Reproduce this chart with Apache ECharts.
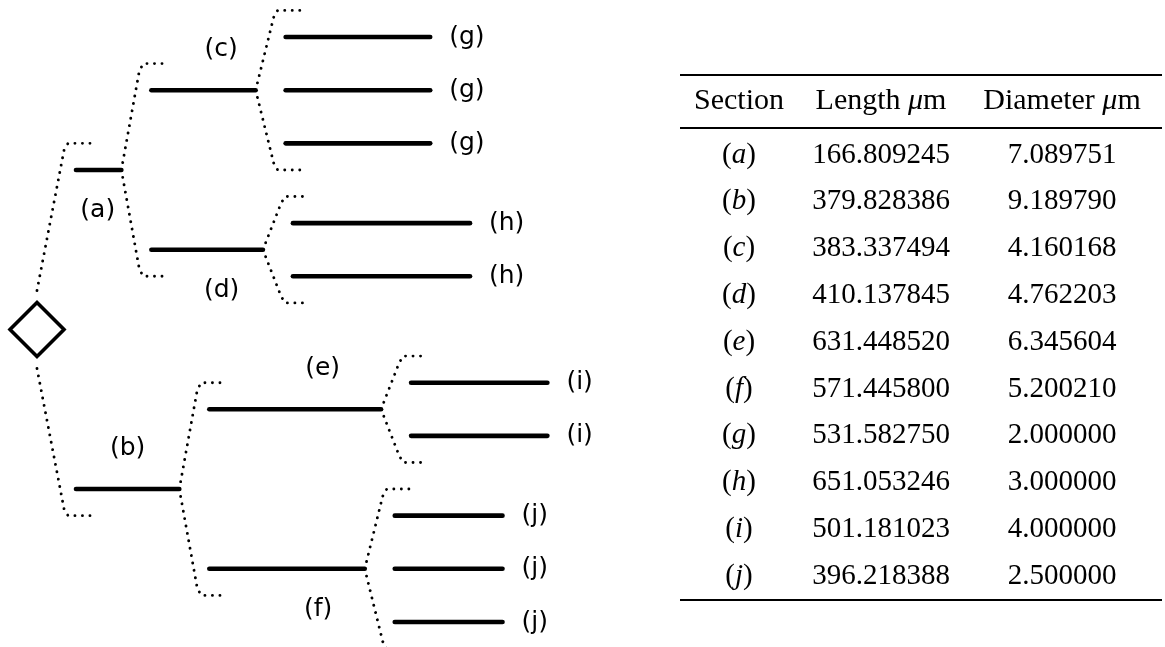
<!DOCTYPE html>
<html>
<head>
<meta charset="utf-8">
<script src="https://cdn.jsdelivr.net/npm/echarts@6/dist/echarts.min.js"></script>
<style>
  html, body { margin: 0; padding: 0; background: #fff; }
  #chart { width: 1165px; height: 647px; }
</style>
</head>
<body>
<div id="chart"></div>
<script>
// dendrite sections, the section each one hangs from, and how many copies are drawn
const sections = ['a', 'b', 'c', 'd', 'e', 'f', 'g', 'h', 'i', 'j'];
const parents = ['soma', 'soma', 'a', 'a', 'b', 'b', 'c', 'd', 'e', 'f'];
const copies = [1, 1, 1, 1, 1, 1, 3, 2, 2, 3];
const lengths = [166.809245, 379.828386, 383.337494, 410.137845, 631.448520,
                 571.445800, 531.582750, 651.053246, 501.181023, 396.218388];
const diameters = ['7.089751', '9.189790', '4.160168', '4.762203', '6.345604',
                   '5.200210', '2.000000', '3.000000', '4.000000', '2.500000'];
const lengthText = ['166.809245', '379.828386', '383.337494', '410.137845', '631.448520',
                    '571.445800', '531.582750', '651.053246', '501.181023', '396.218388'];

// layout
const PX_PER_UM = 0.272;
const GAP_PX = 30;              // gap between a section end and its children
const SOMA_GAP_PX = 39;
const SOMA_R = 27;
const SUBTREE_GAP = [1, 0.5, 0]; // extra rows between sibling subtrees, by depth
const LABEL_DY = 41;
const LABEL_AT = { a: [0.48, 1], b: [0.5, -1], c: [0.67, -1], d: [0.63, 1], e: [0.66, -1], f: [0.7, 1] };
const GRID_W = 544;
const X_MAX = GRID_W / PX_PER_UM;
const GAP_UM = GAP_PX / PX_PER_UM;

const idx = {};
sections.forEach((s, i) => { idx[s] = i; });
const childrenOf = name => sections.filter((s, i) => parents[i] === name);

const segData = [];
const bracketData = [];
let nextRow = 0;

function place(sec, start, depth) {
  const i = idx[sec];
  const end = start + lengths[i];
  const node = { sec, start, end, kids: [] };
  const kidSecs = childrenOf(sec);
  if (!kidSecs.length) {
    node.row = nextRow;
    nextRow += 1;
  } else {
    kidSecs.forEach((k, n) => {
      if (n > 0) nextRow += SUBTREE_GAP[depth];
      for (let c = 0; c < copies[idx[k]]; c++) node.kids.push(place(k, end + GAP_UM, depth + 1));
    });
    const first = node.kids[0].row, last = node.kids[node.kids.length - 1].row;
    node.row = (first + last) / 2;
    bracketData.push([end, node.row, first, last, end + GAP_UM, 0]);
  }
  segData.push([start, end, node.row, i, kidSecs.length ? 0 : 1]);
  return node;
}

const somaKids = [];
childrenOf('soma').forEach((k, n) => {
  if (n > 0) nextRow += SUBTREE_GAP[0];
  somaKids.push(place(k, 0, 1));
});
const somaRow = (somaKids[0].row + somaKids[somaKids.length - 1].row) / 2;
bracketData.push([0, somaRow, somaKids[0].row, somaKids[somaKids.length - 1].row, 0, 1]);
const maxRow = nextRow - 1;

const DOT = { stroke: '#000', fill: 'none', lineWidth: 2.9, lineDash: [0.01, 7.5], lineCap: 'round' };

function renderSegment(params, api) {
  const a = api.coord([api.value(0), api.value(2)]);
  const b = api.coord([api.value(1), api.value(2)]);
  const sec = sections[api.value(3)];
  const leaf = api.value(4) === 1;
  let lx, ly, align;
  if (leaf) {
    lx = b[0] + 19; ly = b[1]; align = 'left';
  } else {
    const p = LABEL_AT[sec];
    lx = a[0] + (b[0] - a[0]) * p[0]; ly = a[1] + p[1] * LABEL_DY; align = 'center';
  }
  return {
    type: 'group',
    children: [
      { type: 'line', shape: { x1: a[0], y1: a[1], x2: b[0], y2: b[1] },
        style: { stroke: '#000', lineWidth: 4.6, lineCap: 'round' } },
      { type: 'text', style: { text: '(' + sec + ')', x: lx, y: ly, align: align, verticalAlign: 'middle',
        font: '25px "DejaVu Sans"', fill: '#000' } }
    ]
  };
}

function renderBracket(params, api) {
  const p = api.coord([api.value(0), api.value(1)]);
  const kx = api.coord([api.value(4), 0])[0];
  const top = api.coord([0, api.value(2) - 0.5])[1];
  const bot = api.coord([0, api.value(3) + 0.5])[1];
  let x0 = p[0], yUp = p[1], yDn = p[1];
  if (api.value(5) === 1) {
    x0 = kx - SOMA_GAP_PX;
    yUp = p[1] - SOMA_R - 12;
    yDn = p[1] + SOMA_R + 12;
  }
  const sx = kx - 12;
  const arm = (y0, y1, s) => ({
    type: 'polyline',
    shape: { points: [[x0, y0], [sx, y1 + s * 7], [sx + 4, y1], [sx + 28, y1]] },
    style: DOT
  });
  return { type: 'group', children: [arm(yUp, top, 1), arm(yDn, bot, -1)] };
}

function renderSoma(params, api) {
  const c = api.coord([api.value(0), api.value(1)]);
  const cx = c[0] - SOMA_GAP_PX, cy = c[1];
  return {
    type: 'polygon',
    shape: { points: [[cx, cy - SOMA_R], [cx + SOMA_R, cy], [cx, cy + SOMA_R], [cx - SOMA_R, cy]] },
    style: { stroke: '#000', fill: 'none', lineWidth: 3.6, lineJoin: 'miter' }
  };
}

// table
const TBL = { left: 680, right: 1162, colX: [739, 881, 1062], headY: 101, row0Y: 155, step: 46.8, rules: [75, 128, 600] };
const SERIF = { fontFamily: 'Liberation Serif', fontSize: 29, fill: '#000' };
const rich = {
  n: { fontFamily: 'Liberation Serif', fontSize: 29 },
  h: { fontFamily: 'Liberation Serif', fontSize: 30 },
  hi: { fontFamily: 'Liberation Serif', fontSize: 30, fontStyle: 'italic' },
  i: { fontFamily: 'Liberation Serif', fontSize: 29, fontStyle: 'italic' }
};
const cell = (text, x, y) => ({
  type: 'text',
  style: Object.assign({ text: text, x: x, y: y, align: 'center', verticalAlign: 'middle', rich: rich }, SERIF)
});
const graphic = [];
TBL.rules.forEach(y => graphic.push({
  type: 'line', shape: { x1: TBL.left, y1: y, x2: TBL.right, y2: y }, style: { stroke: '#000', lineWidth: 2 }
}));
graphic.push(cell('{h|Section}', TBL.colX[0], TBL.headY));
graphic.push(cell('{h|Length }{hi|μ}{h|m}', TBL.colX[1], TBL.headY));
graphic.push(cell('{h|Diameter }{hi|μ}{h|m}', TBL.colX[2], TBL.headY));
sections.forEach((s, i) => {
  const y = TBL.row0Y + i * TBL.step;
  graphic.push(cell('{n|(}{i|' + s + '}{n|)}', TBL.colX[0], y));
  graphic.push(cell('{n|' + lengthText[i] + '}', TBL.colX[1], y));
  graphic.push(cell('{n|' + diameters[i] + '}', TBL.colX[2], y));
});

const chart = echarts.init(document.getElementById('chart'));
chart.setOption({
  animation: false,
  grid: { left: 76, top: 37, width: GRID_W, height: 585 },
  xAxis: { type: 'value', min: 0, max: X_MAX, show: false },
  yAxis: { type: 'value', min: 0, max: maxRow, inverse: true, show: false },
  series: [
    { type: 'custom', name: 'brackets', renderItem: renderBracket, data: bracketData, clip: false, silent: true },
    { type: 'custom', name: 'sections', renderItem: renderSegment, data: segData, clip: false, silent: true },
    { type: 'custom', name: 'soma', renderItem: renderSoma, data: [[0, somaRow]], clip: false, silent: true }
  ],
  graphic: graphic
});
</script>
</body>
</html>
